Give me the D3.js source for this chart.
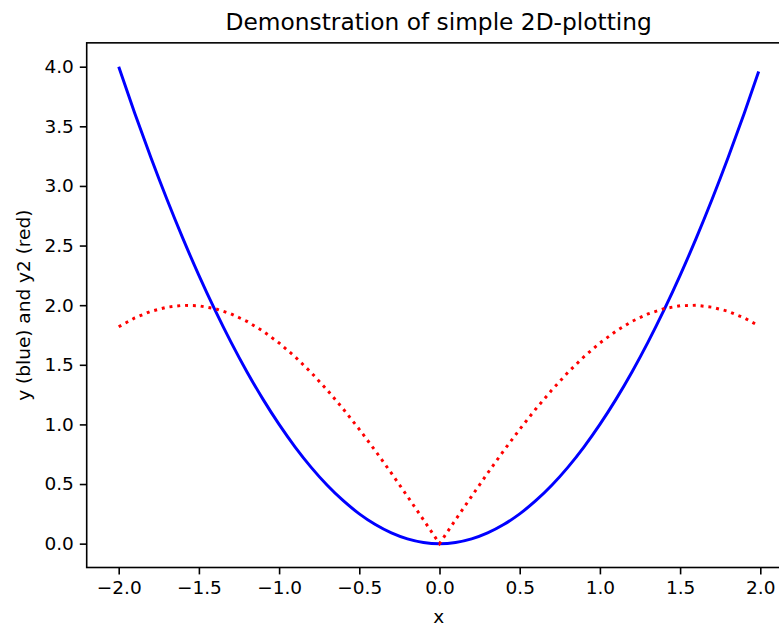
<!DOCTYPE html>
<html>
<head>
<meta charset="utf-8">
<script src="https://cdn.jsdelivr.net/npm/d3@7"></script>
<style>
  body { margin: 0; background: #fff; }
  svg { display: block; }
  text { font-family: "DejaVu Sans", sans-serif; fill: #000; }
</style>
</head>
<body>
<svg id="chart" width="779" height="626"></svg>
<script>
// Data
const xValues = [-2.0,-1.9,-1.8,-1.7,-1.6,-1.5,-1.4,-1.3,-1.2,-1.1,-1.0,-0.9,-0.8,-0.7,-0.6,-0.5,-0.4,-0.3,-0.2,-0.1,0.0,
                 0.1,0.2,0.3,0.4,0.5,0.6,0.7,0.8,0.9,1.0,1.1,1.2,1.3,1.4,1.5,1.6,1.7,1.8,1.9,1.99];
const yBlue = [4.00,3.61,3.24,2.89,2.56,2.25,1.96,1.69,1.44,1.21,1.00,0.81,0.64,0.49,0.36,0.25,0.16,0.09,0.04,0.01,0.00,
               0.01,0.04,0.09,0.16,0.25,0.36,0.49,0.64,0.81,1.00,1.21,1.44,1.69,1.96,2.25,2.56,2.89,3.24,3.61,3.96];
const yRed = [1.819,1.893,1.948,1.983,1.999,1.995,1.971,1.927,1.864,1.782,1.683,1.567,1.435,1.288,1.129,0.959,0.779,0.591,0.397,0.200,0.000,
              0.200,0.397,0.591,0.779,0.959,1.129,1.288,1.435,1.567,1.683,1.782,1.864,1.927,1.971,1.995,1.999,1.983,1.948,1.893,1.827];
const xTicks = [-2.0,-1.5,-1.0,-0.5,0.0,0.5,1.0,1.5,2.0];
const yTicks = [0.0,0.5,1.0,1.5,2.0,2.5,3.0,3.5,4.0];
const titleText = "Demonstration of simple 2D-plotting";
const xLabel = "x";
const yLabel = "y (blue) and y2 (red)";

const svg = d3.select("#chart");
const L = 86.7, R = 790.7, T = 42.85, B = 567.5;
const x = d3.scaleLinear().domain([-2.1995, 2.1895]).range([L, R]);
const y = d3.scaleLinear().domain([-0.2, 4.2]).range([B, T]);
const fmt = d3.format(".1f");

const tickFont = 18.5;

// Axes
const gx = svg.append("g").attr("transform", `translate(0,${B})`)
  .call(d3.axisBottom(x).tickValues(xTicks).tickFormat(fmt).tickSize(6.9).tickPadding(6));
const gy = svg.append("g").attr("transform", `translate(${L},0)`)
  .call(d3.axisLeft(y).tickValues(yTicks).tickFormat(fmt).tickSize(6.9).tickPadding(6));
[gx, gy].forEach(g => {
  g.select(".domain").remove();
  g.selectAll(".tick line").attr("stroke", "#000").attr("stroke-width", 1.6);
  g.selectAll(".tick text").attr("font-family", "DejaVu Sans, sans-serif")
    .attr("font-size", tickFont).attr("fill", "#000");
});

// Lines
svg.append("path")
  .attr("d", d3.line().x((d, i) => x(xValues[i])).y(d => y(d)).curve(d3.curveMonotoneX)(yBlue))
  .attr("fill", "none").attr("stroke", "#0000ff").attr("stroke-width", 2.96);
svg.append("path")
  .attr("d", d3.line().x((d, i) => x(xValues[i])).y(d => y(d))(yRed))
  .attr("fill", "none").attr("stroke", "#ff0000").attr("stroke-width", 2.96)
  .attr("stroke-dasharray", "2.96,4.88").attr("stroke-linecap", "butt");

// Spines
svg.append("rect").attr("x", L).attr("y", T).attr("width", R - L).attr("height", B - T)
  .attr("fill", "none").attr("stroke", "#000").attr("stroke-width", 1.6);

// Title and labels
svg.append("text").attr("x", (L + R) / 2).attr("y", 29.5).attr("text-anchor", "middle")
  .attr("font-size", 23.3).text(titleText);
svg.append("text").attr("x", (L + R) / 2).attr("y", 622.5).attr("text-anchor", "middle")
  .attr("font-size", tickFont).text(xLabel);
svg.append("text").attr("transform", `translate(29.5,${(T + B) / 2}) rotate(-90)`)
  .attr("text-anchor", "middle").attr("font-size", tickFont).text(yLabel);
</script>
</body>
</html>
